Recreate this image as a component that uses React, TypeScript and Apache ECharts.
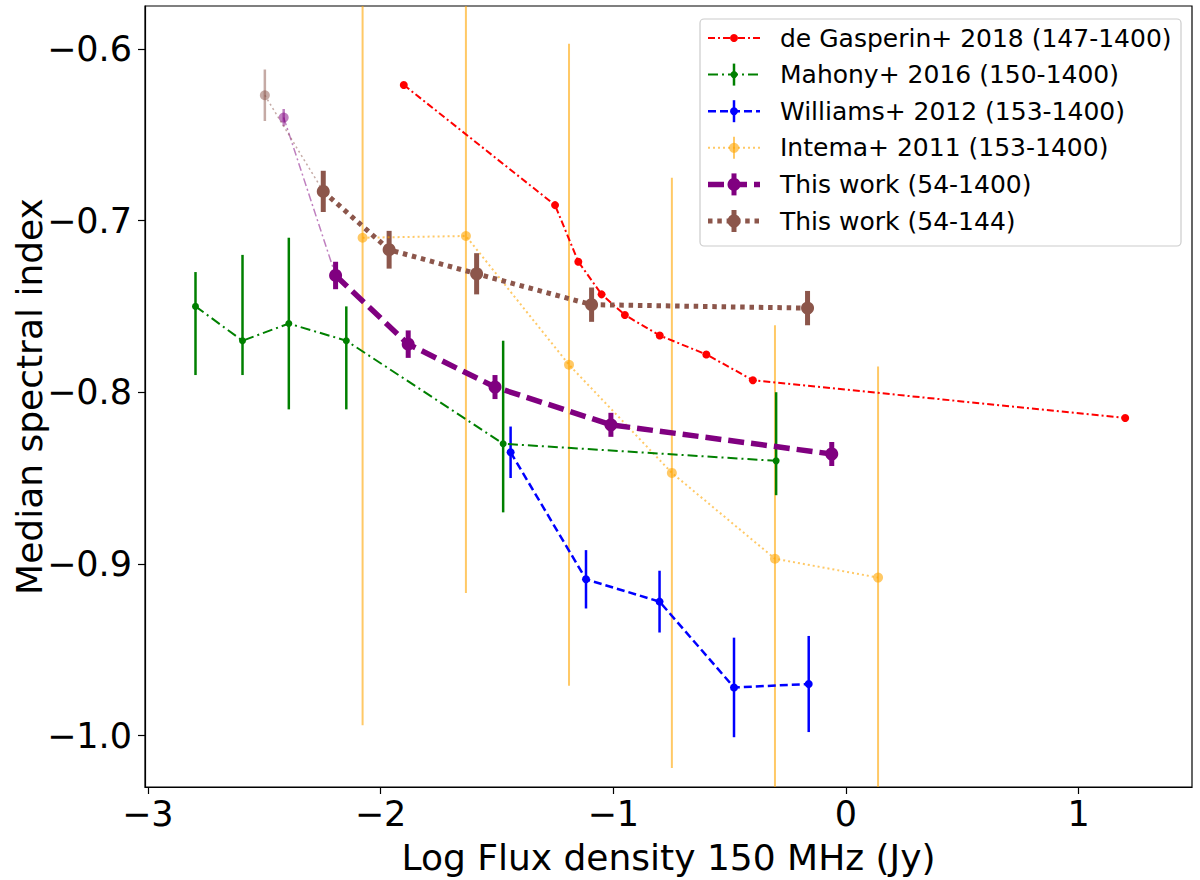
import React from "react";
import * as echarts from "echarts";

// axis ticks
const xTicks = [-3, -2, -1, 0, 1];
const yTicks = [-1.0, -0.9, -0.8, -0.7, -0.6];

// de Gasperin+ 2018 (147-1400)
const gasX = [-1.9, -1.25, -1.15, -1.05, -0.95, -0.8, -0.6, -0.4, 1.2];
const gasY = [-0.621, -0.691, -0.724, -0.743, -0.755, -0.767, -0.778, -0.793, -0.815];

// Mahony+ 2016 (150-1400), asymmetric errors
const mahX = [-2.795, -2.593, -2.394, -2.147, -1.473, -0.3];
const mahY = [-0.75, -0.77, -0.76, -0.77, -0.83, -0.84];
const mahLo = [0.04, 0.02, 0.05, 0.04, 0.04, 0.02];
const mahHi = [0.02, 0.05, 0.05, 0.02, 0.06, 0.04];

// Williams+ 2012 (153-1400)
const wilX = [-1.441, -1.117, -0.801, -0.481, -0.16];
const wilY = [-0.835, -0.909, -0.922, -0.972, -0.97];
const wilErr = [0.015, 0.017, 0.018, 0.029, 0.028];

// Intema+ 2011 (153-1400)
const intX = [-2.077, -1.633, -1.19, -0.748, -0.305, 0.138];
const intY = [-0.71, -0.709, -0.784, -0.847, -0.897, -0.908];
const intErr = [0.284, 0.208, 0.187, 0.172, 0.136, 0.123];

// This work (54-1400)
const tw1X = [-2.193, -1.881, -1.508, -1.01, -0.061];
const tw1Y = [-0.732, -0.772, -0.797, -0.819, -0.836];
const tw1Err = [0.008, 0.008, 0.007, 0.007, 0.007];
const tw1FaintX = [-2.416];
const tw1FaintY = [-0.64];
const tw1FaintErr = [0.005];

// This work (54-144)
const tw2X = [-2.246, -1.963, -1.587, -1.093, -0.165];
const tw2Y = [-0.683, -0.717, -0.731, -0.749, -0.751];
const tw2Err = [0.012, 0.011, 0.012, 0.01, 0.01];
const tw2FaintX = [-2.497];
const tw2FaintY = [-0.627];
const tw2FaintErr = [0.015];

const legendNames = [
  "de Gasperin+ 2018 (147-1400)",
  "Mahony+ 2016 (150-1400)",
  "Williams+ 2012 (153-1400)",
  "Intema+ 2011 (153-1400)",
  "This work (54-1400)",
  "This work (54-144)",
];

const X_MIN = -3.012, X_MAX = 1.487, Y_MIN = -1.03, Y_MAX = -0.575;
const FONT = "DejaVu Sans";
const PURPLE = "#800080", BROWN = "#8c564b", ORANGE = "#ffa500";

const minus = (s: string) => s.replace("-", "\u2212");
const pts = (xs: number[], ys: number[]) => xs.map((x, i) => [x, ys[i]]);
const bars = (xs: number[], ys: number[], lo: number[], hi: number[]) =>
  xs.map((x, i) => [x, ys[i] - lo[i], ys[i] + hi[i]]);

function line(data: number[][], color: string, width: number, dash: any, size: number, opacity = 1) {
  return {
    type: "line", data, symbol: "circle", symbolSize: size, showSymbol: true, silent: true,
    lineStyle: { color, width, type: dash, opacity, cap: "butt" },
    itemStyle: { color, opacity, borderWidth: 0 },
    emphasis: { disabled: true }, clip: true,
  };
}

function err(data: number[][], color: string, width: number, opacity = 1) {
  return {
    type: "custom", data, silent: true, clip: true,
    encode: { x: 0, y: [1, 2] },
    renderItem: (_p: any, api: any) => {
      const x = api.value(0);
      const lo = Math.max(api.value(1), Y_MIN);
      const hi = Math.min(api.value(2), Y_MAX);
      const a = api.coord([x, hi]);
      const b = api.coord([x, lo]);
      return {
        type: "line",
        shape: { x1: a[0], y1: a[1], x2: b[0], y2: b[1] },
        style: { stroke: color, lineWidth: width, opacity },
      };
    },
  };
}

// legend handle styles: [color, lineWidth, dash, markerR, barWidth (0 = no bar), opacity]
const legendStyles: [string, number, number[], number, number, number][] = [
  ["#ff0000", 2, [7, 3, 2, 3], 4, 0, 1],
  ["#008000", 2, [10, 4, 2, 4], 3.5, 2.5, 1],
  ["#0000ff", 2.5, [8, 4], 4, 2.5, 1],
  [ORANGE, 2, [2, 3], 5, 2, 0.6],
  [PURPLE, 5.5, [16, 7], 6.5, 5, 1],
  [BROWN, 5, [4.5, 4.8], 6.5, 5, 1],
];

function legendGraphic() {
  const els: any[] = [
    {
      type: "rect", z: 100,
      shape: { x: 700, y: 19, width: 481, height: 227, r: 4 },
      style: { fill: "rgba(255,255,255,0.8)", stroke: "#cccccc", lineWidth: 1.2 },
    },
  ];
  legendNames.forEach((name, i) => {
    const [color, lw, dash, r, bw, op] = legendStyles[i];
    const y = 38 + i * 36.6;
    els.push({
      type: "line", z: 101,
      shape: { x1: 708, y1: y, x2: 760, y2: y },
      style: { stroke: color, lineWidth: lw, lineDash: dash, opacity: op },
    });
    if (bw > 0) {
      els.push({
        type: "line", z: 101,
        shape: { x1: 734, y1: y - 11, x2: 734, y2: y + 11 },
        style: { stroke: color, lineWidth: bw, opacity: op },
      });
    }
    els.push({ type: "circle", z: 102, shape: { cx: 734, cy: y, r }, style: { fill: color, opacity: op } });
    els.push({
      type: "text", z: 102, x: 780, y,
      style: { text: name, fontSize: 25, fontFamily: FONT, fill: "#000", verticalAlign: "middle" },
    });
  });
  return els;
}

export default function App() {
  const ref = React.useRef<HTMLDivElement>(null);

  React.useEffect(() => {
    if (!ref.current) return;
    const c = echarts.init(ref.current, null, { renderer: "svg" });
    const axisLine = { show: true, onZero: false, lineStyle: { color: "#000", width: 1.2 } };
    const tick = { show: true, length: 7, inside: false, lineStyle: { color: "#000", width: 1.2 } };
    c.setOption({
      animation: false,
      backgroundColor: "#fff",
      grid: {
        left: 145, right: 8, top: 6, bottom: 93, containLabel: false, outerBoundsMode: "none",
        show: true, borderColor: "#000", borderWidth: 1.2,
      },
      xAxis: {
        type: "value", min: X_MIN, max: X_MAX,
        axisLine, axisTick: { ...tick, customValues: xTicks },
        axisLabel: {
          customValues: xTicks, formatter: (v: number) => minus(String(v)),
          fontSize: 35, color: "#000", fontFamily: FONT, margin: 9,
        },
        splitLine: { show: false },
        name: "Log Flux density 150 MHz (Jy)", nameLocation: "middle", nameGap: 52,
        nameMoveOverlap: false,
        nameTextStyle: { fontSize: 36, color: "#000", fontFamily: FONT },
      },
      yAxis: {
        type: "value", min: Y_MIN, max: Y_MAX,
        axisLine, axisTick: { ...tick, customValues: yTicks },
        axisLabel: {
          customValues: yTicks, formatter: (v: number) => minus(v.toFixed(1)),
          fontSize: 35, color: "#000", fontFamily: FONT, margin: 13,
        },
        splitLine: { show: false },
        name: "Median spectral index", nameLocation: "middle", nameGap: 98,
        nameMoveOverlap: false,
        nameTextStyle: { fontSize: 36, color: "#000", fontFamily: FONT },
      },
      series: [
        err(bars(intX, intY, intErr, intErr), ORANGE, 2, 0.6),
        line(pts(intX, intY), ORANGE, 2, [2, 3], 10, 0.6),
        line(pts(gasX, gasY), "#ff0000", 2, [7, 3, 2, 3], 8),
        err(bars(mahX, mahY, mahLo, mahHi), "#008000", 2.5),
        line(pts(mahX, mahY), "#008000", 2, [10, 4, 2, 4], 7),
        err(bars(wilX, wilY, wilErr, wilErr), "#0000ff", 2.5),
        line(pts(wilX, wilY), "#0000ff", 2.5, [8, 4], 8),
        line([[tw1FaintX[0], tw1FaintY[0]], [tw1X[0], tw1Y[0]]], PURPLE, 1.5, [8, 3, 2, 3], 0, 0.5),
        err(bars(tw1FaintX, tw1FaintY, tw1FaintErr, tw1FaintErr), PURPLE, 2.5, 0.5),
        line(pts(tw1FaintX, tw1FaintY), PURPLE, 1, "solid", 10, 0.5),
        line([[tw2FaintX[0], tw2FaintY[0]], [tw2X[0], tw2Y[0]]], BROWN, 1.5, [2, 3], 0, 0.5),
        err(bars(tw2FaintX, tw2FaintY, tw2FaintErr, tw2FaintErr), BROWN, 2.5, 0.5),
        line(pts(tw2FaintX, tw2FaintY), BROWN, 1, "solid", 10, 0.5),
        err(bars(tw1X, tw1Y, tw1Err, tw1Err), PURPLE, 5),
        line(pts(tw1X, tw1Y), PURPLE, 5.5, [16, 7], 13),
        err(bars(tw2X, tw2Y, tw2Err, tw2Err), BROWN, 5),
        line(pts(tw2X, tw2Y), BROWN, 5, [4.5, 4.8], 13),
      ],
      graphic: legendGraphic(),
    });
    return () => c.dispose();
  }, []);

  return (
    <div
      ref={ref}
      style={{ position: "fixed", left: 0, top: 0, width: 1200, height: 880, background: "#fff" }}
    />
  );
}
